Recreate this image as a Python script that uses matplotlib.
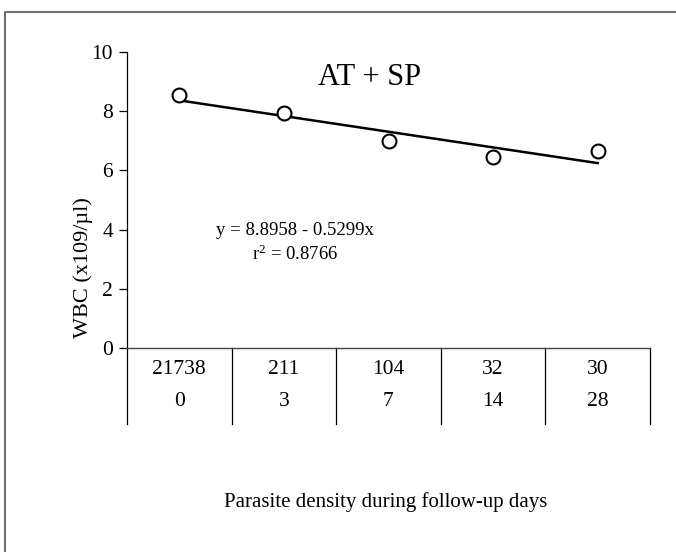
import matplotlib
matplotlib.use("Agg")
import matplotlib.pyplot as plt
from matplotlib.lines import Line2D
import numpy as np

# ---- data ----
wbc = [8.55, 7.94, 6.99, 6.45, 6.66]
parasite_density = ["21738", "211", "104", "32", "30"]
followup_days = ["0", "3", "7", "14", "28"]
intercept = 8.8958
slope = -0.5299
r2 = 0.8766
title_text = "AT + SP"
ylabel_text = "WBC (x109/µl)"
xlabel_text = "Parasite density during follow-up days"
yticks = [0, 2, 4, 6, 8, 10]

plt.rcParams['font.family'] = ['Liberation Serif', 'DejaVu Serif']
plt.rcParams['mathtext.fontset'] = 'custom'
plt.rcParams['mathtext.rm'] = 'Liberation Serif'
plt.rcParams['mathtext.it'] = 'Liberation Serif:italic'
plt.rcParams['mathtext.bf'] = 'Liberation Serif:bold'

fig = plt.figure(figsize=(6.76, 5.52), dpi=100)
W, H = 676, 552
ax_left, ax_right, ax_top, ax_bot = 127, 650, 52, 348
ax = fig.add_axes([ax_left / W, 1 - ax_bot / H, (ax_right - ax_left) / W, (ax_bot - ax_top) / H])

n = len(wbc)
xs = np.arange(n) + 0.5
ax.plot(xs, wbc, linestyle='none', marker='o', markersize=10,
        markerfacecolor='white', markeredgecolor='black', markeredgewidth=1.5, zorder=3)
reg_x = np.arange(1, n + 1)
reg_y = intercept + slope * reg_x
ax.plot(xs, reg_y, color='black', linewidth=1.8, zorder=2)

ax.set_xlim(0, n)
ax.set_ylim(0, 10)
ax.set_yticks(yticks)
ax.set_yticklabels([str(t) for t in yticks], fontsize=15.5)
ax.tick_params(axis='y', direction='out', length=6, width=0.9, pad=4, colors='black')
ax.set_xticks([])
for s in ['top', 'right']:
    ax.spines[s].set_visible(False)
ax.spines['left'].set_linewidth(0.9)
ax.spines['bottom'].set_linewidth(1.0)
ax.spines['bottom'].set_color('#444444')

# table under the axis
trans = ax.get_xaxis_transform()
div_bottom = -(424 - ax_bot) / (ax_bot - ax_top)
for i in range(n + 1):
    ax.plot([i, i], [0, div_bottom], transform=trans, color='black', linewidth=0.9, clip_on=False)
row1_y = -(369 - ax_bot) / (ax_bot - ax_top)
row2_y = -(401 - ax_bot) / (ax_bot - ax_top)
for i in range(n):
    ax.text(xs[i], row1_y, parasite_density[i], transform=trans, ha='center', va='center', fontsize=15.5)
    ax.text(xs[i], row2_y, followup_days[i], transform=trans, ha='center', va='center', fontsize=15.5)

# annotations
fig.text(370 / W, 1 - 77 / H, title_text, ha='center', va='center', fontsize=22)
fig.text(295 / W, 1 - 230 / H, f"y = {intercept:.4f} - {abs(slope):.4f}x",
         ha='center', va='center', fontsize=13.5)
fig.text(295 / W, 1 - 254 / H, f"r$^{{2}}$ = {r2:.4f}",
         ha='center', va='center', fontsize=13.5)
fig.text(83 / W, 1 - 268 / H, ylabel_text, rotation=90, ha='center', va='center', fontsize=16)
fig.text(386 / W, 1 - 502 / H, xlabel_text, ha='center', va='center', fontsize=15)

# partial outer frame (top & left)
fig.add_artist(Line2D([5 / W, 5 / W, 1.0], [0.0, 1 - 12 / H, 1 - 12 / H],
                      transform=fig.transFigure, color='#707070', linewidth=1.5))

fig.savefig("out.png", dpi=100)
